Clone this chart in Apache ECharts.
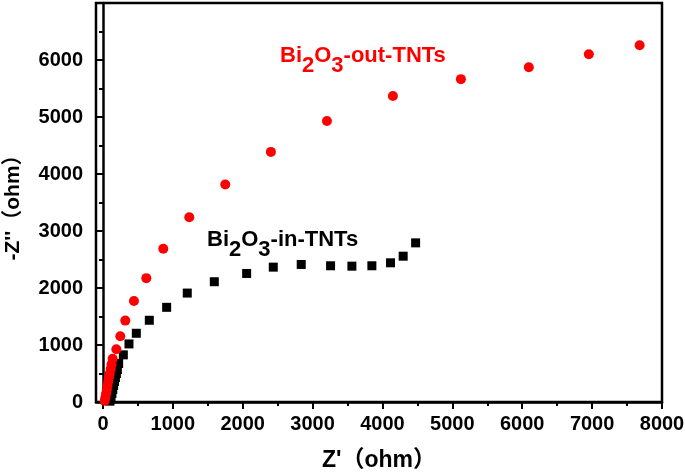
<!DOCTYPE html>
<html>
<head>
<meta charset="utf-8">
<script src="https://cdn.jsdelivr.net/npm/echarts@6/dist/echarts.min.js"></script>
<style>
  html, body { margin: 0; padding: 0; background: #fff; }
  #main { width: 685px; height: 472px; }
</style>
</head>
<body>
<div id="main"></div>
<script>
  // Z' / -Z'' (ohm)
  var inX  = [100, 115, 128, 140, 152, 165, 178, 192, 206, 224, 291, 372, 477, 663, 911, 1206, 1593, 2056, 2437, 2837, 3257, 3562, 3848, 4115, 4296, 4474];
  var inY  = [15, 80, 150, 220, 290, 360, 430, 500, 570, 676, 827, 1019, 1206, 1434, 1661, 1911, 2110, 2255, 2366, 2413, 2390, 2383, 2390, 2442, 2558, 2792];
  var outX = [25, 35, 45, 55, 65, 75, 85, 97, 110, 122, 138, 191, 248, 319, 443, 620, 863, 1235, 1750, 2403, 3205, 4149, 5122, 6094, 6953, 7680];
  var outY = [20, 80, 150, 220, 290, 360, 430, 500, 580, 660, 757, 927, 1154, 1428, 1771, 2173, 2690, 3240, 3816, 4388, 4930, 5367, 5664, 5874, 6101, 6260];

  var xTicks = [0, 1000, 2000, 3000, 4000, 5000, 6000, 7000, 8000];
  var xMinorTicks = [500, 1500, 2500, 3500, 4500, 5500, 6500, 7500];

  function pairs(xs, ys) {
    return xs.map(function (x, i) { return [x, ys[i]]; });
  }

  var font = '"Liberation Sans", Arial, "Noto Sans CJK SC", sans-serif';
  // subscript digits: same size, pushed down inside a taller line
  var subRich = {
    a: { fontSize: 22, fontWeight: 'bold', fontFamily: font, lineHeight: 32, verticalAlign: 'top' },
    s: { fontSize: 22, fontWeight: 'bold', fontFamily: font, lineHeight: 32, verticalAlign: 'bottom' }
  };

  var chart = echarts.init(document.getElementById('main'));

  chart.setOption({
    animation: false,
    grid: {
      left: 96, right: 23, top: 3, bottom: 70,
      outerBoundsMode: 'none',
      show: true, borderColor: '#000', borderWidth: 2.5
    },
    xAxis: [{
      type: 'value', min: -100, max: 8000,
      name: "Z'（ohm）", nameLocation: 'middle', nameGap: 47,
      nameTextStyle: { fontFamily: font, fontSize: 23, fontWeight: 'bold', color: '#000' },
      axisLine: { lineStyle: { color: '#000', width: 2.5 } },
      axisTick: { show: true, inside: false, length: 7, customValues: xTicks, lineStyle: { width: 2 } },
      axisLabel: {
        customValues: xTicks, margin: 12, fontFamily: font, fontSize: 20, fontWeight: 'bold', color: '#000',
        formatter: function (v) { return String(v); }
      },
      splitLine: { show: false }
    }, {
      type: 'value', min: -100, max: 8000, position: 'bottom', offset: 0,
      axisLine: { show: false },
      axisTick: { show: true, inside: false, length: 4, customValues: xMinorTicks, lineStyle: { color: '#000', width: 2 } },
      axisLabel: { show: false },
      splitLine: { show: false }
    }],
    yAxis: {
      type: 'value', min: 0, max: 7000, interval: 1000,
      name: "-Z''（ohm）", nameLocation: 'middle', nameGap: 72,
      nameTextStyle: { fontFamily: font, fontSize: 21, fontWeight: 'bold', color: '#000' },
      axisLine: { lineStyle: { color: '#000', width: 2.5 } },
      axisTick: { show: true, inside: false, length: 7, lineStyle: { width: 2 } },
      minorTick: { show: true, splitNumber: 2, length: 4, lineStyle: { color: '#000', width: 2 } },
      axisLabel: {
        margin: 13, fontFamily: font, fontSize: 20, fontWeight: 'bold', color: '#000',
        formatter: function (v) { return v === 7000 ? '' : String(v); }
      },
      splitLine: { show: false }
    },
    graphic: [{
      type: 'text', left: 280, top: 45,
      style: {
        text: '{a|Bi}{s|2}{a|O}{s|3}{a|-out-TNTs}',
        fill: '#ff0000', font: 'bold 22px ' + font,
        rich: subRich
      }
    }, {
      type: 'text', left: 207, top: 229,
      style: {
        text: '{a|Bi}{s|2}{a|O}{s|3}{a|-in-TNTs}',
        fill: '#000', font: 'bold 22px ' + font,
        rich: subRich
      }
    }],
    series: [{
      name: 'Bi2O3-in-TNTs', type: 'scatter', xAxisIndex: 0,
      symbol: 'rect', symbolSize: 9,
      itemStyle: { color: '#000', opacity: 1 },
      data: pairs(inX, inY)
    }, {
      name: 'Bi2O3-out-TNTs', type: 'scatter', xAxisIndex: 0,
      symbol: 'circle', symbolSize: 10,
      itemStyle: { color: '#ff0000', opacity: 1 },
      data: pairs(outX, outY)
    }]
  });
</script>
</body>
</html>
